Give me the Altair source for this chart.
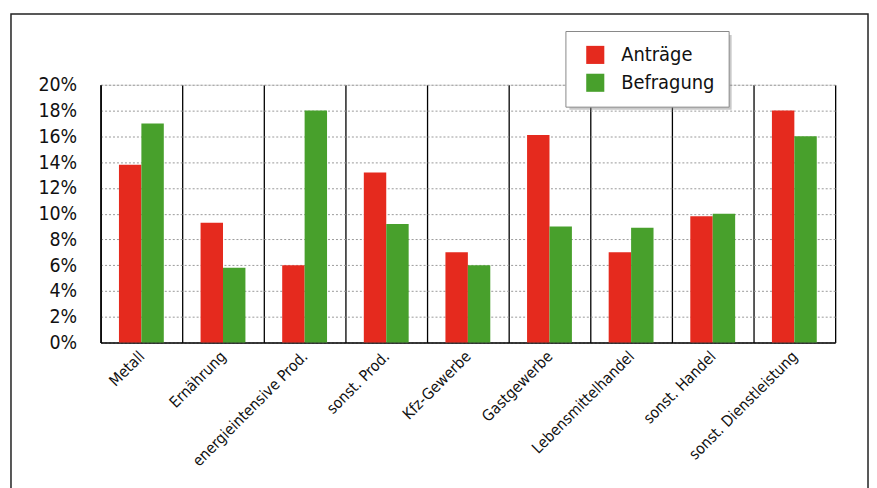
import altair as alt
import pandas as pd

categories = ["Metall", "Ernährung", "energieintensive Prod.", "sonst. Prod.",
              "Kfz-Gewerbe", "Gastgewerbe", "Lebensmittelhandel", "sonst. Handel",
              "sonst. Dienstleistung"]
antraege = [13.8, 9.3, 6.0, 13.2, 7.0, 16.1, 7.0, 9.8, 18.0]
befragung = [17.0, 5.8, 18.0, 9.2, 6.0, 9.0, 8.9, 10.0, 16.0]
series = ["Anträge", "Befragung"]
colors = ["#e52a1e", "#48a02c"]
y_ticks = [0, 2, 4, 6, 8, 10, 12, 14, 16, 18, 20]

rows = []
for c, a, b in zip(categories, antraege, befragung):
    rows.append({"cat": c, "series": series[0], "value": a})
    rows.append({"cat": c, "series": series[1], "value": b})
df = pd.DataFrame(rows)

FONT = "DejaVu Sans Condensed, DejaVu Sans, sans-serif"

W, H = 738, 259

frame = alt.Chart(pd.DataFrame({"a": [0]})).mark_rect(
    fillOpacity=0, stroke="#222", strokeWidth=1.5, clip=False
).encode(
    x=alt.value(-90), x2=alt.value(771), y=alt.value(-71), y2=alt.value(430)
)

shadow = alt.Chart(pd.DataFrame({"a": [0]})).mark_rect(
    fill="#888", opacity=0.45, clip=False
).encode(
    x=alt.value(471), x2=alt.value(634), y=alt.value(-50), y2=alt.value(25)
)

bars = alt.Chart(df).mark_bar().encode(
    x=alt.X("cat:N", sort=categories, title=None,
            scale=alt.Scale(paddingInner=0, paddingOuter=0),
            axis=alt.Axis(grid=True, gridColor="#000", gridWidth=1.3, gridDash=[],
                          tickBand="extent", ticks=False, domainColor="#000",
                          domainWidth=1.5, labelAngle=-45, labelAlign="right",
                          labelBaseline="middle", labelPadding=11, labelFontSize=15.5,
                          labelFont=FONT, labelColor="#111")),
    xOffset=alt.XOffset("series:N", sort=series,
                        scale=alt.Scale(paddingInner=0, paddingOuter=0.82)),
    y=alt.Y("value:Q", title=None,
            scale=alt.Scale(domain=[0, 20], nice=False),
            axis=alt.Axis(values=y_ticks, labelExpr="datum.value + '%'",
                          grid=True, gridColor="#999", gridDash=[2, 2], gridWidth=1,
                          ticks=False, domainColor="#000", domainWidth=1.5,
                          labelPadding=24, labelFontSize=19.5, labelFont=FONT,
                          labelColor="#111")),
    color=alt.Color("series:N", sort=series,
                    scale=alt.Scale(domain=series, range=colors),
                    legend=alt.Legend(title=None, orient="none", legendX=467, legendY=-54,
                                      fillColor="white", strokeColor="#888",
                                      padding=14, symbolType="square", symbolSize=330,
                                      symbolOffset=6,
                                      symbolStrokeWidth=0, labelFontSize=20,
                                      labelFont=FONT, labelColor="#111",
                                      labelOffset=16, rowPadding=8, offset=0)),
)

chart = alt.layer(frame, shadow, bars).properties(
    width=W, height=H,
    autosize=alt.AutoSizeParams(type="none"),
    padding={"left": 93, "top": 76, "right": 34, "bottom": 145},
).configure_view(stroke=None, fill="#ebebeb").configure(background="white")

chart.save("out.html", embed_options={"renderer": "svg", "actions": False})
